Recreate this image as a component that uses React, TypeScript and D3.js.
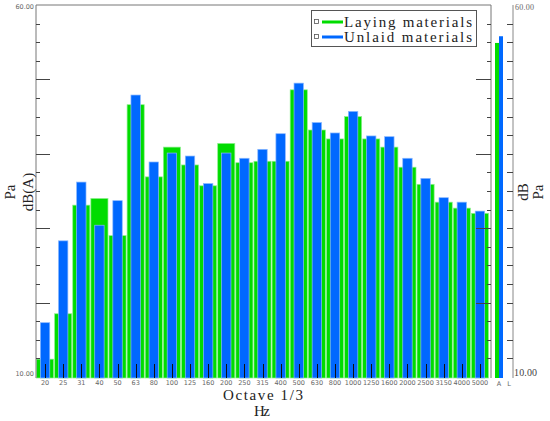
import React, { useRef, useEffect } from 'react';
import * as d3 from 'd3';

// 1/3 octave band centre frequencies (Hz)
const bands = ['20', '25', '31', '40', '50', '63', '80', '100', '125', '160', '200', '250', '315',
    '400', '500', '630', '800', '1000', '1250', '1600', '2000', '2500', '3150', '4000', '5000'];

// dB(A) per band
const layingValues = [12.4, 18.5, 33.1, 34.0, 29.0, 46.6, 36.9, 40.9, 38.5, 35.7, 41.4, 38.8, 39.0,
    39.0, 48.6, 43.2, 42.0, 45.0, 42.0, 40.9, 38.2, 35.9, 33.5, 32.7, 32.0];
const unlaidValues = [17.3, 28.3, 36.2, 30.4, 33.7, 47.9, 38.9, 40.1, 39.7, 36.0, 40.1, 39.4, 40.6,
    42.7, 49.5, 44.2, 42.8, 45.7, 42.4, 42.3, 39.4, 36.7, 34.1, 33.5, 32.3];

// overall levels, side panel
const totalCats = ['A', 'L'];
const layingTotal = [54.9];
const unlaidTotal = [55.8];

const seriesNames = ['Laying materials', 'Unlaid materials'];
const yDomain: [number, number] = [10, 60];

const GREEN = '#00dc00';
const BLUE = '#0068ff';

const App: React.FC = () => {
    const svgRef = useRef<SVGSVGElement | null>(null);
    const width = 550;
    const height = 421;

    useEffect(() => {
        const svg = d3.select(svgRef.current);
        svg.selectAll('*').remove();

        const left = 36, right = 491, top = 5, bottom = 377;
        const serif = '"Liberation Serif", "DejaVu Serif", serif';

        const x = d3.scaleBand<string>().domain(bands).range([left, 489]);
        const y = d3.scaleLinear().domain(yDomain).range([bottom, top]);
        const xTot = d3.scaleBand<string>().domain(totalCats).range([493, 513]);

        svg.append('rect').attr('width', width).attr('height', height).attr('fill', '#fff');

        // green bars (full band)
        svg.append('g').selectAll('rect')
            .data(layingValues)
            .enter().append('rect')
            .attr('x', (_, i) => (x(bands[i]) as number) + 0.5)
            .attr('width', x.bandwidth() - 1)
            .attr('y', d => y(d))
            .attr('height', d => bottom - y(d) + 1)
            .attr('fill', GREEN)
            .attr('stroke', '#8ff08f')
            .attr('stroke-width', 0.7);

        // blue bars (narrow, centred)
        const bw = x.bandwidth() * 0.52;
        svg.append('g').selectAll('rect')
            .data(unlaidValues)
            .enter().append('rect')
            .attr('x', (_, i) => (x(bands[i]) as number) + x.bandwidth() / 2 - bw / 2)
            .attr('width', bw)
            .attr('y', d => y(d))
            .attr('height', d => bottom - y(d) + 1)
            .attr('fill', BLUE)
            .attr('stroke', '#8ab8ff')
            .attr('stroke-width', 0.7);

        // side panel: overall level
        svg.append('g').selectAll('rect')
            .data(layingTotal)
            .enter().append('rect')
            .attr('x', (_, i) => (xTot(totalCats[i]) as number) + 2)
            .attr('width', xTot.bandwidth() - 2)
            .attr('y', d => y(d))
            .attr('height', d => bottom - y(d) + 1)
            .attr('fill', GREEN);
        svg.append('g').selectAll('rect')
            .data(unlaidTotal)
            .enter().append('rect')
            .attr('x', (_, i) => (xTot(totalCats[i]) as number) + xTot.bandwidth() / 2 + 1)
            .attr('width', xTot.bandwidth() / 2 - 1)
            .attr('y', d => y(d))
            .attr('height', d => bottom - y(d) + 1)
            .attr('fill', BLUE);

        // frame
        svg.append('path')
            .attr('d', `M${left},${bottom + 1}V${top}H${right}V${bottom + 1}`)
            .attr('fill', 'none')
            .attr('stroke', '#777')
            .attr('stroke-width', 1);
        svg.append('line')
            .attr('x1', 513).attr('x2', 513).attr('y1', top).attr('y2', bottom + 1)
            .attr('stroke', '#888');

        // y ticks every 2.5, majors every 10
        const yTicks = d3.range(10, 60.01, 2.5);
        const isMajor = (v: number) => Math.abs(v % 10) < 1e-6;
        const tg = svg.append('g').attr('stroke', '#444').attr('stroke-width', 1);
        yTicks.forEach(v => {
            if (v === 10 || v === 60) return;
            const yy = Math.round(y(v)) + 0.5;
            tg.append('line').attr('x1', left).attr('x2', left + (isMajor(v) ? 14 : 4)).attr('y1', yy).attr('y2', yy);
            tg.append('line').attr('x1', right).attr('x2', right - (isMajor(v) ? 15 : 4)).attr('y1', yy).attr('y2', yy);
            tg.append('line').attr('x1', 513).attr('x2', 507).attr('y1', yy).attr('y2', yy);
        });

        // x ticks inside bars
        svg.append('g').selectAll('line')
            .data(bands)
            .enter().append('line')
            .attr('x1', d => Math.round((x(d) as number) + x.bandwidth() / 2) + 0.5)
            .attr('x2', d => Math.round((x(d) as number) + x.bandwidth() / 2) + 0.5)
            .attr('y1', bottom - 13)
            .attr('y2', bottom + 1)
            .attr('stroke', '#111')
            .attr('stroke-width', 1);

        const small = { size: '6.5px', fill: '#666' };
        svg.append('g').selectAll('text')
            .data(bands)
            .enter().append('text')
            .attr('x', d => (x(d) as number) + x.bandwidth() / 2)
            .attr('y', bottom + 8)
            .attr('text-anchor', 'middle')
            .attr('font-family', 'DejaVu Sans, sans-serif')
            .attr('font-size', small.size)
            .attr('fill', small.fill)
            .text(d => d);
        svg.append('g').selectAll('text')
            .data(totalCats)
            .enter().append('text')
            .attr('x', d => (xTot(d) as number) + xTot.bandwidth() / 2 + 1)
            .attr('y', bottom + 9)
            .attr('text-anchor', 'middle')
            .attr('font-family', 'DejaVu Sans, sans-serif')
            .attr('font-size', small.size)
            .attr('fill', small.fill)
            .text(d => d);

        const fmt = d3.format('.2f');
        [yDomain[1], yDomain[0]].forEach(v => {
            const yy = v === yDomain[1] ? y(v) + 4 : y(v) - 1;
            svg.append('text')
                .attr('x', left - 2).attr('y', yy)
                .attr('text-anchor', 'end')
                .attr('font-family', 'DejaVu Sans, sans-serif')
                .attr('font-size', small.size).attr('fill', small.fill)
                .text(fmt(v));
        });
        svg.append('text')
            .attr('x', 515).attr('y', y(60) + 5)
            .attr('font-family', serif).attr('font-size', '8px').attr('fill', '#666')
            .attr('textLength', 19).attr('lengthAdjust', 'spacing')
            .text(fmt(60));
        svg.append('text')
            .attr('x', 514).attr('y', y(10) - 1)
            .attr('font-family', serif).attr('font-size', '10px').attr('fill', '#444')
            .attr('textLength', 23).attr('lengthAdjust', 'spacing')
            .text(fmt(10));

        // axis titles
        svg.append('text')
            .attr('x', 223).attr('y', 400)
            .attr('font-family', serif).attr('font-size', '15px').attr('fill', '#222')
            .attr('textLength', 80).attr('lengthAdjust', 'spacing')
            .text('Octave 1/3');
        svg.append('text')
            .attr('x', 254).attr('y', 416)
            .attr('font-family', serif).attr('font-size', '15px').attr('fill', '#222')
            .attr('textLength', 16).attr('lengthAdjust', 'spacing')
            .text('Hz');

        const vTitle = (tx: number, label: string) => {
            svg.append('text')
                .attr('transform', `translate(${tx},192) rotate(-90)`)
                .attr('text-anchor', 'middle')
                .attr('font-family', serif).attr('font-size', '15px').attr('fill', '#222')
                .text(label);
        };
        vTitle(15, 'Pa');
        vTitle(33, 'dB(A)');
        vTitle(528, 'dB');
        vTitle(543, 'Pa');

        // legend
        const lg = svg.append('g');
        lg.append('rect')
            .attr('x', 311.5).attr('y', 10.5).attr('width', 165).attr('height', 36)
            .attr('fill', '#fff').attr('stroke', '#555');
        [GREEN, BLUE].forEach((c, i) => {
            const ly = 22 + i * 15;
            lg.append('rect')
                .attr('x', 314.5).attr('y', ly - 2.5).attr('width', 4).attr('height', 4)
                .attr('fill', '#fff').attr('stroke', '#555').attr('stroke-width', 0.8);
            lg.append('line')
                .attr('x1', 322).attr('x2', 343).attr('y1', ly).attr('y2', ly)
                .attr('stroke', c).attr('stroke-width', 3);
            lg.append('text')
                .attr('x', 344).attr('y', ly + 4.5)
                .attr('font-family', serif).attr('font-size', '15px').attr('fill', '#222')
                .attr('textLength', 128).attr('lengthAdjust', 'spacing')
                .text(seriesNames[i]);
        });
    }, []);

    return (
        <div style={{ position: 'absolute', left: 0, top: 0 }}>
            <svg ref={svgRef} width={width} height={height} style={{ display: 'block' }}></svg>
        </div>
    );
};

export default App;
